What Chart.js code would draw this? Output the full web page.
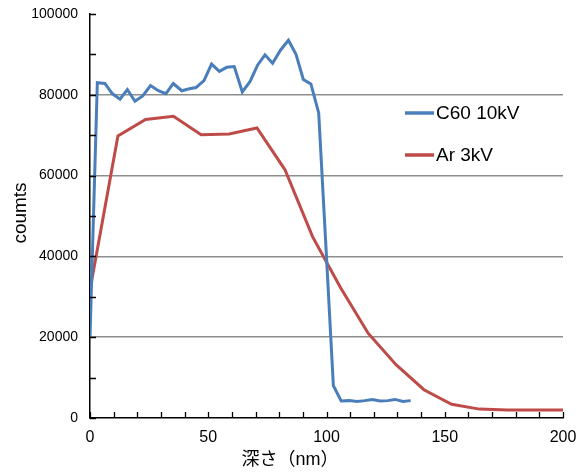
<!DOCTYPE html>
<html>
<head>
<meta charset="utf-8">
<script src="https://cdn.jsdelivr.net/npm/chart.js@4/dist/chart.umd.min.js"></script>
<style>
html,body{margin:0;padding:0;background:#fff;}
#wrap{width:585px;height:473px;position:relative;}
</style>
</head>
<body>
<div id="wrap"><canvas id="c" width="585" height="473"></canvas></div>
<script>
// ---- data ----
const c60Depth = [0, 3.1, 6.3, 9.4, 12.7, 15.8, 19.0, 22.3, 25.6, 28.9, 32.1, 35.2, 38.8, 42.0, 44.8, 48.2, 51.4, 54.7, 57.8, 61.0, 64.4, 67.7, 70.9, 74.0, 77.2, 80.6, 83.9, 87.1, 90.2, 93.4, 96.7, 99.8, 102.9, 106.2, 109.6, 112.9, 116.2, 119.4, 122.6, 125.9, 129.0, 132.3, 135.6];
const c60Counts = [20000, 83000, 82800, 80300, 78900, 81300, 78400, 79700, 82300, 81000, 80300, 82800, 81000, 81500, 81800, 83500, 87600, 85800, 86800, 87000, 80700, 83300, 87400, 89900, 87800, 91100, 93500, 90000, 83800, 82700, 75500, 42000, 8000, 4200, 4300, 4100, 4300, 4600, 4200, 4300, 4600, 4100, 4300];
const arDepth = [0, 11.8, 23.5, 35.3, 47.0, 58.8, 70.6, 82.4, 94.1, 105.9, 117.6, 129.4, 141.2, 152.9, 164.7, 176.5, 188.2, 200];
const arCounts = [31700, 69800, 73900, 74700, 70100, 70300, 71800, 61500, 44900, 32300, 21000, 13200, 7000, 3400, 2200, 2000, 1950, 1950];
const seriesNames = ["C60 10kV", "Ar 3kV"];
const xTitle = "深さ（nm）";
const yTitle = "coumts";

const BLUE = "#4A7EBB", RED = "#BE4B48";
const FONT = "'Liberation Sans', Arial, 'Noto Sans CJK JP', sans-serif";

const toPts = (xs, ys) => xs.map((x, i) => ({x: x, y: ys[i]}));

const decor = {
  id: 'decor',
  afterDraw(chart) {
    const ctx = chart.ctx;
    const xs = chart.scales.x, ys = chart.scales.y;
    const a = chart.chartArea;
    ctx.save();
    // inward ticks
    ctx.strokeStyle = '#000';
    ctx.lineWidth = 1.3;
    ctx.beginPath();
    for (let v = 0; v <= 100000; v += 10000) {
      const y = Math.round(ys.getPixelForValue(v)) + 0.5;
      ctx.moveTo(a.left, y); ctx.lineTo(a.left + 6, y);
    }
    for (let v = 0; v <= 200; v += 10) {
      const x = Math.round(xs.getPixelForValue(v)) + 0.5;
      ctx.moveTo(x, a.bottom); ctx.lineTo(x, a.bottom - 6);
    }
    ctx.stroke();
    // legend
    const items = [[seriesNames[0], BLUE, 113], [seriesNames[1], RED, 155]];
    ctx.font = "19px " + FONT;
    ctx.textBaseline = 'middle';
    ctx.textAlign = 'left';
    items.forEach(([t, col, y]) => {
      ctx.strokeStyle = col; ctx.lineWidth = 3.5;
      ctx.beginPath(); ctx.moveTo(405, y); ctx.lineTo(434, y); ctx.stroke();
      ctx.fillStyle = '#000';
      ctx.fillText(t, 436, y + 1);
    });
    // axis titles
    ctx.font = "18px " + FONT;
    ctx.textAlign = 'center';
    ctx.fillText(xTitle, 290, 460);
    ctx.translate(21, 213);
    ctx.rotate(-Math.PI / 2);
    ctx.font = "19px " + FONT;
    ctx.fillText(yTitle, 0, 0);
    ctx.restore();
  }
};

new Chart(document.getElementById('c'), {
  type: 'line',
  data: {
    datasets: [
      {label: seriesNames[0], data: toPts(c60Depth, c60Counts), borderColor: BLUE, borderWidth: 3, pointRadius: 0, tension: 0, fill: false},
      {label: seriesNames[1], data: toPts(arDepth, arCounts), borderColor: RED, borderWidth: 3, pointRadius: 0, tension: 0, fill: false}
    ]
  },
  options: {
    responsive: false,
    animation: false,
    layout: {padding: {top: 14, right: 22, left: 0, bottom: 0}},
    plugins: {legend: {display: false}, tooltip: {enabled: false}},
    scales: {
      x: {
        type: 'linear', min: 0, max: 200,
        afterFit: s => { s.height = 55; s.paddingLeft = 0; s.paddingRight = 0; },
        grid: {display: true, color: 'transparent', drawTicks: false},
        border: {display: true, color: '#000', width: 1.5},
        ticks: {stepSize: 10, autoSkip: false, maxRotation: 0, padding: 10, color: '#000',
          font: {family: FONT, size: 16},
          callback: v => (v % 50 === 0 ? String(v) : '')}
      },
      y: {
        min: 0, max: 100000,
        afterFit: s => { s.width = 90; s.paddingTop = 0; s.paddingBottom = 0; },
        grid: {drawTicks: false, lineWidth: 1.5,
          color: c => (c.tick && c.tick.value % 20000 === 0 && c.tick.value !== 0 && c.tick.value !== 100000) ? '#8e8e8e' : 'transparent'},
        border: {display: true, color: '#000', width: 1.5},
        ticks: {stepSize: 10000, autoSkip: false, padding: 12, color: '#000',
          font: {family: FONT, size: 14},
          callback: v => (v % 20000 === 0 ? String(v) : '')}
      }
    }
  },
  plugins: [decor]
});
</script>
</body>
</html>
